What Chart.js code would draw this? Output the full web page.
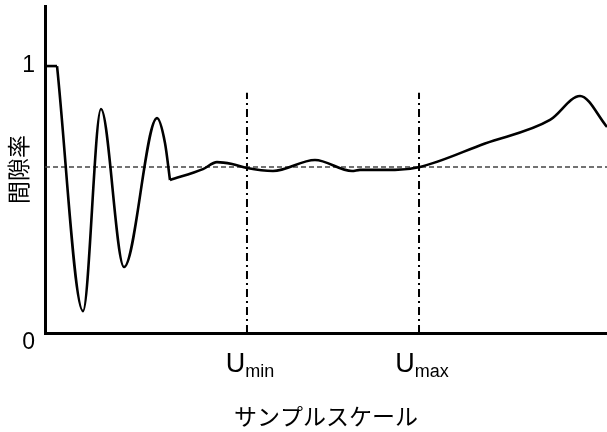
<!DOCTYPE html>
<html>
<head>
<meta charset="utf-8">
<script src="https://cdn.jsdelivr.net/npm/chart.js@4/dist/chart.umd.min.js"></script>
<style>
  body { margin: 0; background: #fff; }
  #wrap { width: 607px; height: 432px; }
</style>
</head>
<body>
<div id="wrap"><canvas id="chart"></canvas></div>
<script>
// サンプルスケール (0-100) と間隙率
const topX = [0, 2.14];
const topY = [1.0, 1.0];

// 振動部分
const oscX = [2.14, 6.76, 9.96, 14.06, 19.93, 21.35, 22.24];
const oscY = [1.0, 0.082, 0.839, 0.247, 0.805, 0.712, 0.573];

// 平坦部分から右端まで
const flatX = [22.24, 28.11, 30.60, 33.27, 35.94, 40.57, 48.04, 54.63, 56.05, 62.28, 66.73, 78.29, 89.86, 95.20, 100];
const flatY = [0.573, 0.614, 0.640, 0.633, 0.618, 0.607, 0.648, 0.607, 0.611, 0.611, 0.622, 0.710, 0.798, 0.888, 0.772];

// 基準線
const refLevel = 0.622;
const uTicks = [35.94, 66.55];
const uLabels = ['U', 'U'];
const uSubs = ['min', 'max'];
const uLineTop = 0.90;
const yTicks = [0, 1];

function pts(xs, ys) {
  return xs.map((x, i) => ({ x, y: ys[i] }));
}

const curveStyle = {
  borderColor: '#000',
  borderWidth: 2.6,
  pointRadius: 0,
  fill: false,
  cubicInterpolationMode: 'monotone',
  order: 0
};

// U_min / U_max ラベル（下付き文字）
const uLabelPlugin = {
  id: 'uLabels',
  afterDraw(chart) {
    const xs = chart.scales.x;
    const ctx = chart.ctx;
    ctx.save();
    ctx.fillStyle = '#000';
    ctx.textBaseline = 'alphabetic';
    ctx.textAlign = 'left';
    uTicks.forEach((v, i) => {
      const px = xs.getPixelForValue(v);
      ctx.font = '27px "Liberation Sans", Arial, sans-serif';
      const wU = ctx.measureText(uLabels[i]).width;
      ctx.font = '18px "Liberation Sans", Arial, sans-serif';
      const wS = ctx.measureText(uSubs[i]).width;
      const start = px - (wU + wS) / 2 + 3;
      ctx.font = '27px "Liberation Sans", Arial, sans-serif';
      ctx.fillText(uLabels[i], start, xs.top + 39);
      ctx.font = '18px "Liberation Sans", Arial, sans-serif';
      ctx.fillText(uSubs[i], start + wU, xs.top + 44);
    });
    ctx.restore();
  }
};

new Chart(document.getElementById('chart'), {
  type: 'line',
  data: {
    datasets: [
      { ...curveStyle, data: pts(topX, topY), cubicInterpolationMode: 'default', tension: 0 },
      { ...curveStyle, data: pts(oscX, oscY) },
      { ...curveStyle, data: pts(flatX, flatY) },
      {
        data: [{ x: 0, y: refLevel }, { x: 100, y: refLevel }],
        borderColor: '#444',
        borderWidth: 1.4,
        borderDash: [5, 3],
        pointRadius: 0,
        tension: 0,
        order: 1
      },
      ...uTicks.map(u => ({
        data: [{ x: u, y: 0 }, { x: u, y: uLineTop }],
        borderColor: '#000',
        borderWidth: 2,
        borderDash: [8, 4, 2, 4],
        pointRadius: 0,
        tension: 0,
        order: 1
      }))
    ]
  },
  options: {
    responsive: true,
    maintainAspectRatio: false,
    animation: false,
    layout: { padding: { top: 6, right: 0, left: 0, bottom: 0 } },
    plugins: {
      legend: { display: false },
      tooltip: { enabled: false }
    },
    scales: {
      x: {
        type: 'linear',
        min: 0,
        max: 100,
        grid: { display: false, drawTicks: false },
        border: { display: true, color: '#000', width: 3 },
        ticks: { display: false },
        title: {
          display: true,
          text: 'サンプルスケール',
          color: '#000',
          font: { family: '"Noto Sans CJK JP", sans-serif', size: 23 },
          padding: { top: 0, bottom: 2 }
        },
        afterFit(scale) {
          scale.height = 99;
          scale.paddingLeft = 0;
          scale.paddingRight = 0;
        }
      },
      y: {
        type: 'linear',
        min: 0,
        max: 1.225,
        grid: { display: false, drawTicks: false },
        border: { display: true, color: '#000', width: 3 },
        afterBuildTicks(scale) {
          scale.ticks = yTicks.map(v => ({ value: v }));
        },
        ticks: {
          color: '#000',
          padding: 10,
          font: { family: '"Liberation Sans", Arial, sans-serif', size: 23, lineHeight: 0.8 },
          callback: v => (v === 0 ? ['', '0'] : String(v))
        },
        title: {
          display: true,
          text: '間隙率',
          color: '#000',
          font: { family: '"Noto Sans CJK JP", sans-serif', size: 23 },
          padding: { top: 4, bottom: 0 }
        },
        afterFit(scale) {
          scale.width = 45;
          scale.paddingTop = 0;
          scale.paddingBottom = 0;
        }
      }
    }
  },
  plugins: [uLabelPlugin]
});
</script>
</body>
</html>
